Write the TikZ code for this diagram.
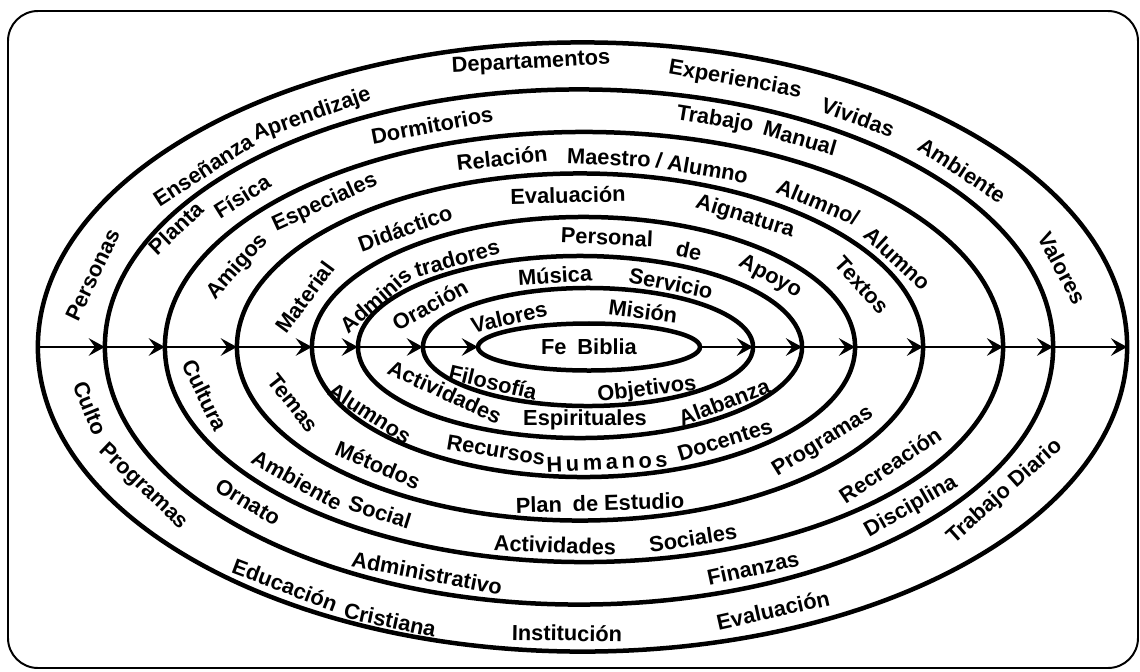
\documentclass[tikz,border=0pt]{standalone}
\usepackage{fontspec}
\setmainfont{Liberation Sans}
\usetikzlibrary{shapes.geometric, arrows.meta}
\tikzset{
ring/.style 2 args={ellipse, draw, line width=3.2pt, inner sep=0pt, outer sep=0pt, minimum width=#1*0.5mm, minimum height=#2*0.5mm}, % one ring, half axes given in pixels
flow/.style={line width=1.8pt, -{Stealth[length=11.5pt, width=12.5pt, inset=4.5pt]}}, % the arrows along the middle line
lbl/.style={font=\bfseries\fontsize{15.5}{18}\selectfont, inner sep=0pt}, % the words written round the rings
}

\begin{document}
\begin{tikzpicture}[x=0.025cm, y=-0.025cm]
        \useasboundingbox (0,0) rectangle (1140,672);
        %% frame round everything
        \draw[line width=1.4pt, rounded corners=0.75cm] (8,11) rectangle (1138,668);
        %% the rings, from the inside out
        \node[ring={111}{23.5}, lbl] (e1) at (589,347) {Fe\enspace Biblia};
        \foreach \n/\cx/\ra/\rb in {2/588/165/59, 3/580/222/91, 4/583.5/271.5/130, 5/580/343/173.5, 6/584/419/215, 7/579/474/257.5, 8/582.5/544.5/304.5}
            \node[ring={\ra}{\rb}] (e\n) at (\cx,347) {};
        %% middle line: one arrow from each ring to the next one
        \foreach \i [evaluate=\i as \j using int(\i-1)] in {2,...,8} {
            \draw[flow] (e\i.west) -- (e\j.west);
            \draw[flow] (e\j.east) -- (e\i.east);
        }
        %% words between e1 and e2 (rotation follows the ring)
        \foreach \px/\py/\txt [count=\i] in {509/317/Valores, 643/311/Misión, 493/382/Filosofía, 647/390/Objetivos} {
            \pgfmathsetmacro\rot{atan2(-0.088*(\px-588.5), 347-\py)+180*(\py>347)}
            \node[lbl, rotate=\rot] (w2-\i) at (\px,\py) {\txt};
        }
        %% words between e2 and e3
        \foreach \px/\py/\txt [count=\i] in {430/305/Oración, 555/275/Música, 671/283/Servicio, 445/392/Actividades, 585/420/Espirituales, 724/402/Alabanza} {
            \pgfmathsetmacro\rot{atan2(-0.150*(\px-584), 347-\py)+180*(\py>347)}
            \node[lbl, rotate=\rot] (w3-\i) at (\px,\py) {\txt};
        }
        %% words between e3 and e4
        \foreach \px/\py/\txt [count=\i] in {376/300/Adminis, 457/258/tradores, 607/237/Personal, 689/251/de, 770/277/Apoyo, 370/413/Alumnos, 496/450/Recursos, 607/462/{H\,u\,m\,a\,n\,o\,s}, 725/440/Docentes} {
            \pgfmathsetmacro\rot{atan2(-0.200*(\px-582), 347-\py)+180*(\py>347)}
            \node[lbl, rotate=\rot] (w4-\i) at (\px,\py) {\txt};
        }
        %% words between e4 and e5
        \foreach \px/\py/\txt [count=\i] in {305/297/Material, 405/228/Didáctico, 568/195/Evaluación, 745/217/Aignatura, 862/285/Textos, 293/403/Temas, 378/465/Métodos, 600/503/{Plan\enspace de Estudio}, 823/442/Programas} {
            \pgfmathsetmacro\rot{atan2(-0.245*(\px-582), 347-\py)+180*(\py>347)}
            \node[lbl, rotate=\rot] (w5-\i) at (\px,\py) {\txt};
        }
        %% words between e5 and e6
        \foreach \px/\py/\txt [count=\i] in {238/267/Amigos, 325/203/Especiales, 502/158/Relación, 609/158/Maestro, 702/168/{/ Alumno}, 818/202/{Alumno/}, 898/258/Alumno, 205/395/Cultura, 297/480/Ambiente, 380/512/Social, 555/545/Actividades, 693/538/Sociales, 890/465/Recreación} {
            \pgfmathsetmacro\rot{atan2(-0.259*(\px-582), 347-\py)+180*(\py>347)}
            \node[lbl, rotate=\rot] (w6-\i) at (\px,\py) {\txt};
        }
        %% words between e6 and e7
        \foreach \px/\py/\txt [count=\i] in {176/228/Planta, 242/196/Física, 432/125/Dormitorios, 715/120/Trabajo, 800/138/Manual, 248/502/Ornato, 427/573/Administrativo, 753/568/Finanzas, 911/507/Disciplina} {
            \pgfmathsetmacro\rot{atan2(-0.279*(\px-582), 347-\py)+180*(\py>347)}
            \node[lbl, rotate=\rot] (w7-\i) at (\px,\py) {\txt};
        }
        %% words between e7 and e8
        \foreach \px/\py/\txt [count=\i] in {93/275/Personas, 203/170/Enseñanza, 312/115/Aprendizaje, 531/63/Departamentos, 735/80/Experiencias, 858/117/Vividas, 962/170/Ambiente, 1062/268/Valores, 90/408/Culto, 143/487/Programas, 285/585/Educación, 390/620/Cristiana, 567/633/Institución, 773/610/Evaluación, 1005/492/{Trabajo Diario}} {
            \pgfmathsetmacro\rot{atan2(-0.305*(\px-581), 347-\py)+180*(\py>347)}
            \node[lbl, rotate=\rot] (w8-\i) at (\px,\py) {\txt};
        }
\end{tikzpicture}
\end{document}
